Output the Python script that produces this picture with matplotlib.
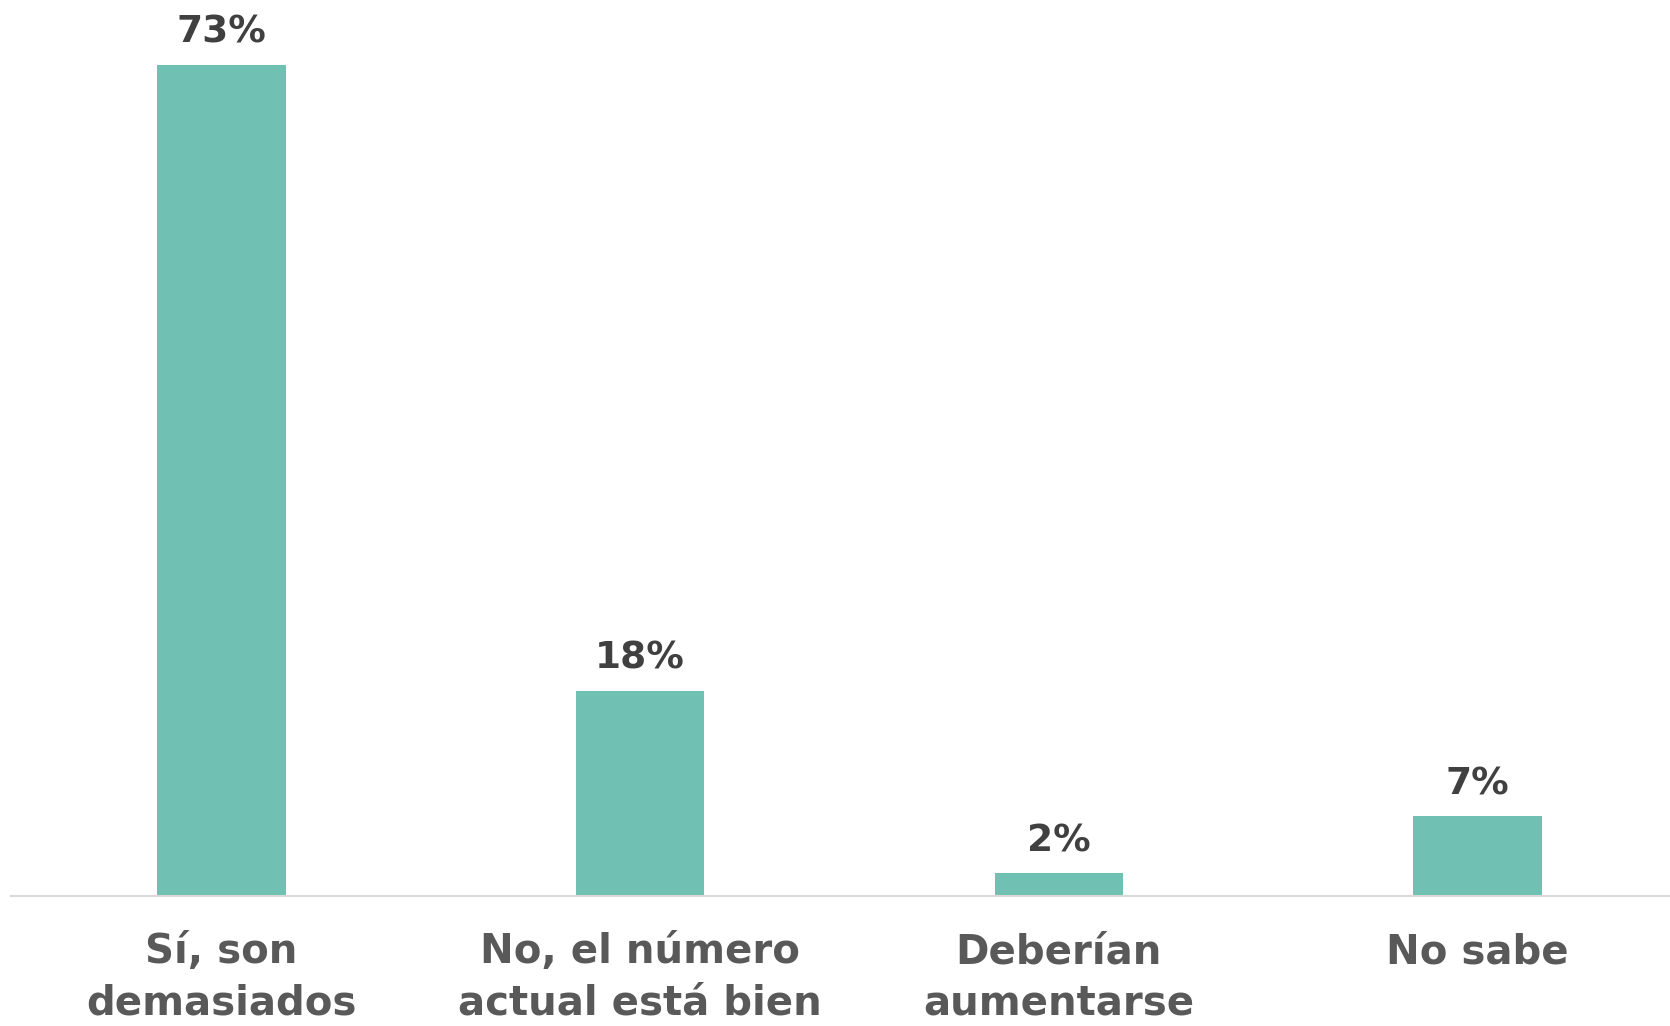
import matplotlib.pyplot as plt
import numpy as np

categories = ["Sí, son\ndemasiados", "No, el número\nactual está bien", "Deberían\naumentarse", "No sabe"]
values = [73, 18, 2, 7]
value_labels = ["73%", "18%", "2%", "7%"]

bar_color = "#70c1b3"

fig = plt.figure(figsize=(16.7, 10.26), dpi=100)
ax = fig.add_axes([0.00635, 0.1267, 0.99365, 0.8733])

x = np.arange(len(categories))
bars = ax.bar(x, values, width=0.307, color=bar_color)

for xi, v, lab in zip(x, values, value_labels):
    ax.annotate(lab, (xi, v), xytext=(0, 16), textcoords="offset points",
                ha="center", va="baseline", fontsize=27, fontweight="bold",
                color="#404040")

ax.set_xlim(-0.504, 3.46)
ax.set_ylim(0, 78.7)
ax.set_yticks([])
ax.set_xticks(x)
ax.set_xticklabels(categories, fontsize=29, fontweight="bold", color="#595959",
                   linespacing=1.38)
ax.tick_params(axis="x", length=0, pad=26)

for s in ["top", "right", "left"]:
    ax.spines[s].set_visible(False)
ax.spines["bottom"].set_color("#d9d9d9")
ax.spines["bottom"].set_linewidth(1.5)

fig.savefig("out.png", dpi=100)
